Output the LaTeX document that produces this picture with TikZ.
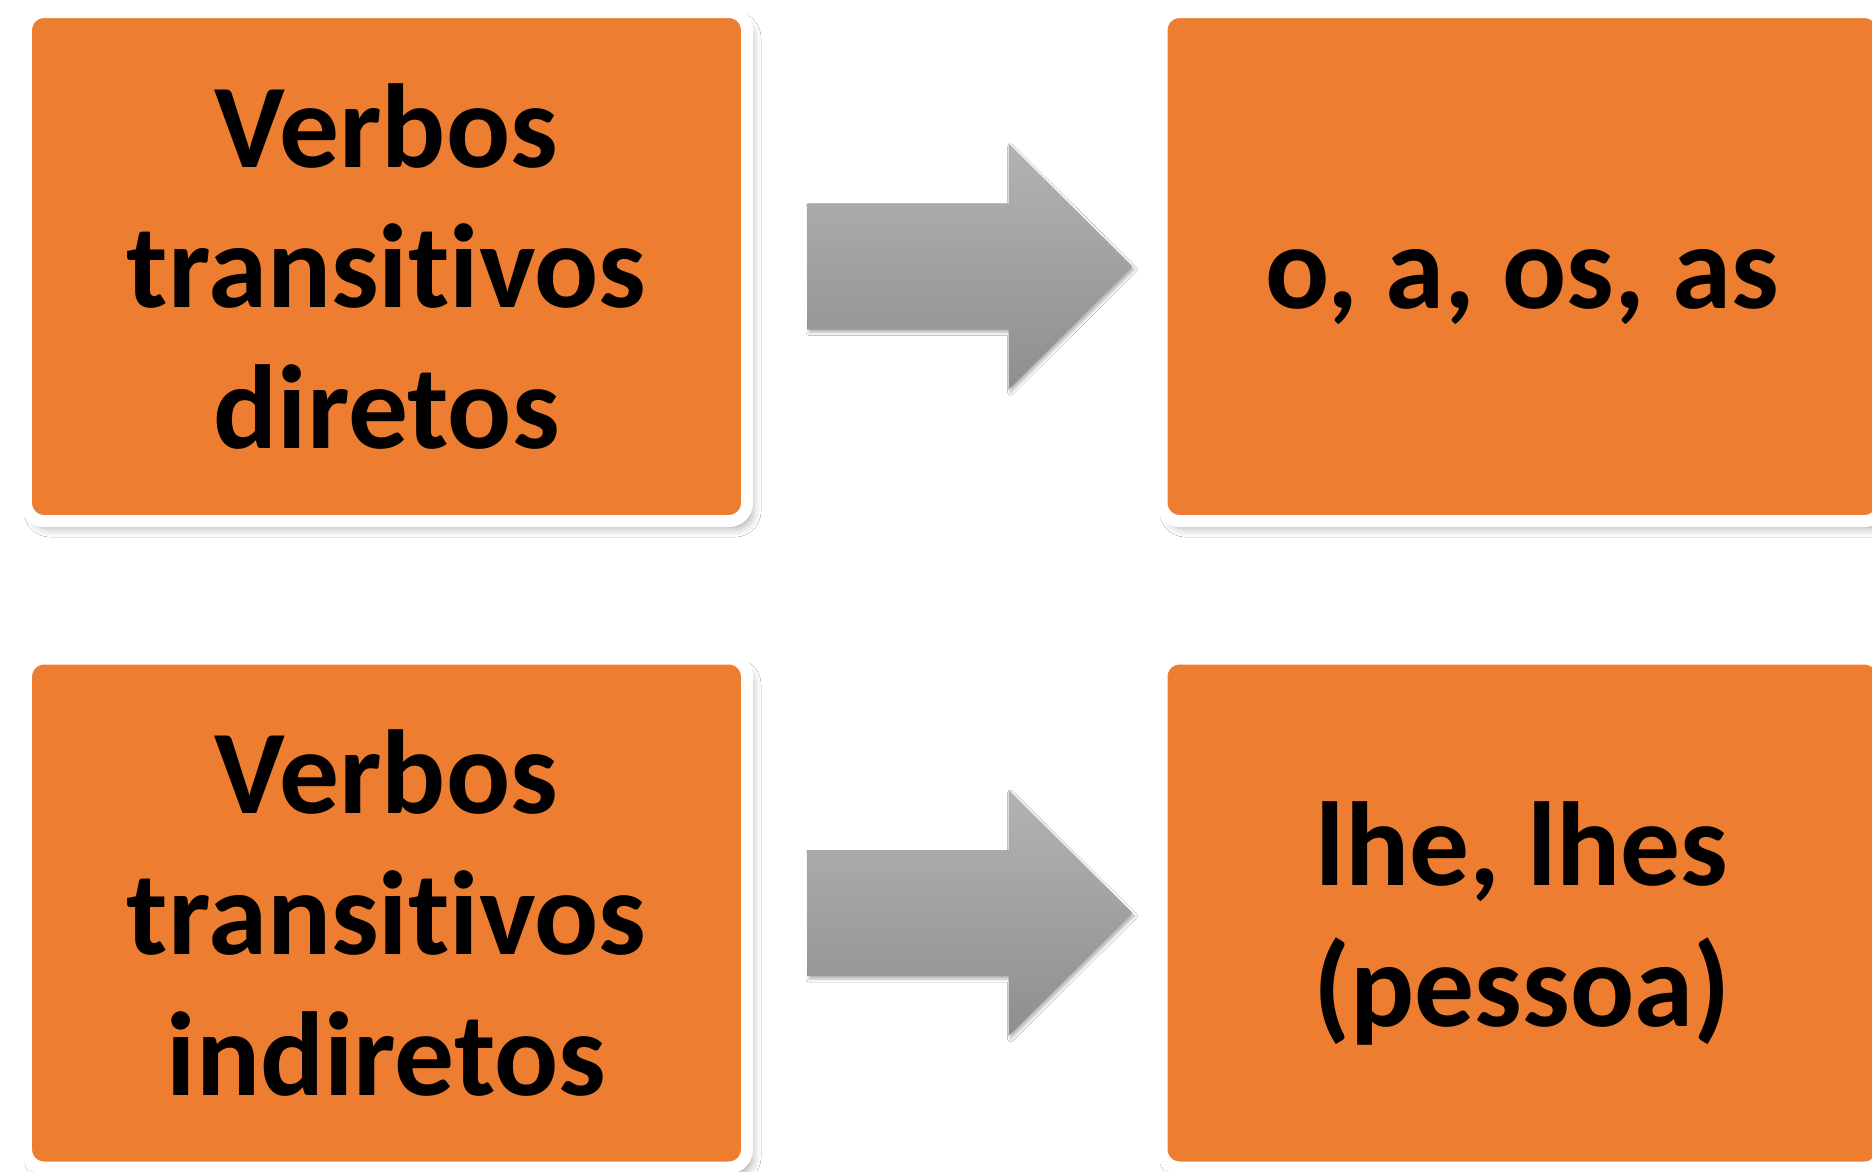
\documentclass[tikz,border=0pt]{standalone}
\usepackage{fontspec}
\setmainfont{Carlito}[Ligatures=NoCommon]
\frenchspacing
\usetikzlibrary{calc,shadows.blur}

\definecolor{boxorange}{HTML}{ED7D31}
\definecolor{arrowtop}{HTML}{B3B3B3}
\definecolor{arrowbottom}{HTML}{8E8E8E}

\tikzset{
    verbbox/.style={rectangle, fill=boxorange, draw=white, line width=0.12cm,
        rounded corners=0.18cm, minimum width=7.21cm, minimum height=5.09cm,
        text width=6.9cm, align=flush center, inner sep=0pt,
        font=\bfseries\fontsize{34}{40}\selectfont,
        blur shadow={shadow xshift=0.06cm, shadow yshift=-0.08cm,
            shadow blur radius=0.08cm, shadow opacity=30}},
    grayarrow/.style={top color=arrowtop, bottom color=arrowbottom,
        blur shadow={shadow xshift=0.02cm, shadow yshift=-0.03cm,
            shadow blur radius=0.03cm, shadow opacity=30}}
}

\newcommand{\blockarrow}[2]{%
    \shade[grayarrow] ($(#1)+(0,0.63)$) -- ($(#2)+(-1.24,0.63)$)
        -- ($(#2)+(-1.24,1.23)$) -- (#2) -- ($(#2)+(-1.24,-1.23)$)
        -- ($(#2)+(-1.24,-0.63)$) -- ($(#1)+(0,-0.63)$) -- cycle;}

\begin{document}
\begin{tikzpicture}
        \fill[white] (0,0) rectangle (18.72,-11.71);
        \useasboundingbox (0,0) rectangle (18.72,-11.71);

        \node[verbbox] (diretos) at (3.865,-2.665) {Verbos\\transitivos\\diretos};
        \node[verbbox, text height=1.1cm, text depth=0.27cm] (oaosas) at (15.22,-2.665) {o, a, os, as};

        \node[verbbox] (indiretos) at (3.865,-9.13) {Verbos\\transitivos\\indiretos};
        \node[verbbox] (lhes) at (15.22,-9.13) {\rule{0pt}{1.05cm}lhe, lhes\\(pessoa)};

        \coordinate (tail1) at ($(diretos.east)+(0.54,0)$);
        \coordinate (tip1) at ($(oaosas.west)+(-0.23,0)$);
        \coordinate (tail2) at ($(indiretos.east)+(0.54,0)$);
        \coordinate (tip2) at ($(lhes.west)+(-0.23,0)$);

        \blockarrow{tail1}{tip1}
        \blockarrow{tail2}{tip2}
\end{tikzpicture}
\end{document}
